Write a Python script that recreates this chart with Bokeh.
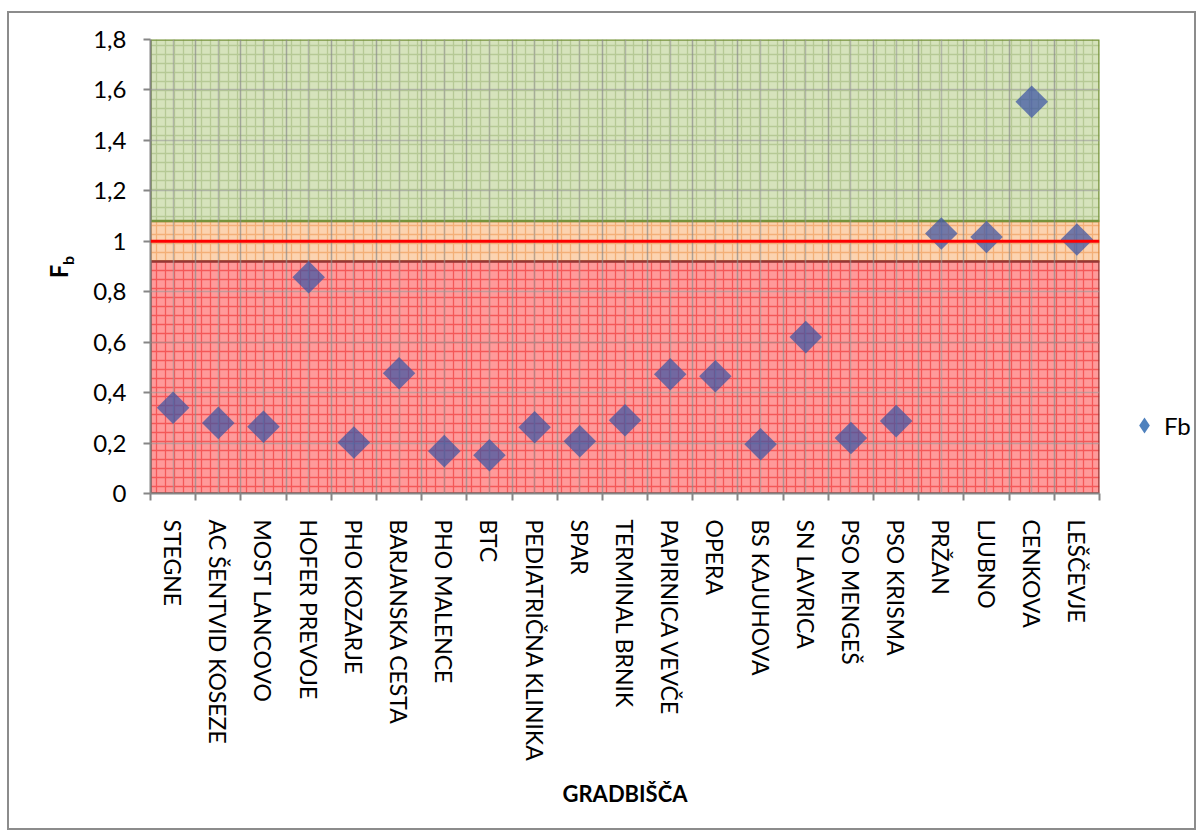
import math
from bokeh.plotting import figure
from bokeh.layouts import row
from bokeh.models import FixedTicker, Span, Label, Legend, LegendItem, Range1d, ColumnDataSource
from bokeh.embed import file_html
from bokeh.resources import INLINE

# ---- data ----
sites = ["STEGNE", "AC ŠENTVID KOSEZE", "MOST LANCOVO", "HOFER PREVOJE", "PHO KOZARJE",
         "BARJANSKA CESTA", "PHO MALENCE", "BTC", "PEDIATRIČNA KLINIKA", "SPAR",
         "TERMINAL BRNIK", "PAPIRNICA VEVČE", "OPERA", "BS KAJUHOVA", "SN LAVRICA",
         "PSO MENGEŠ", "PSO KRISMA", "PRŽAN", "LJUBNO", "CENKOVA", "LEŠČEVJE"]
fb = [0.34, 0.28, 0.265, 0.857, 0.202, 0.477, 0.168, 0.152, 0.263, 0.207,
      0.29, 0.473, 0.465, 0.195, 0.62, 0.22, 0.287, 1.031, 1.017, 1.553, 1.007]
y_ticks = [0, 0.2, 0.4, 0.6, 0.8, 1.0, 1.2, 1.4, 1.6, 1.8]
y_tick_labels = ["0", "0,2", "0,4", "0,6", "0,8", "1", "1,2", "1,4", "1,6", "1,8"]
# bands drawn in this order: orange, red, green
band_lower = [0.92, 0.0, 1.08]
band_upper = [1.08, 0.92, 1.8]
band_fill = ["#FCD3B0", "#FF9A9A", "#D6E3BC"]
band_hatch = ["#F0A060", "#F03C3C", "#A8BE84"]
band_line = ["#D9883F", "#953735", "#77933C"]
threshold = 1.0

FONT = "Lato"
n = len(sites)
xs = [i + 0.5 for i in range(n)]
H = 815

# ---- main chart ----
p = figure(width=1022, height=H, x_range=Range1d(0, n), y_range=Range1d(0, 1.8),
           output_backend="svg", toolbar_location=None, title=None,
           min_border_left=71, min_border_right=2, min_border_top=26, min_border_bottom=335)
p.outline_line_color = None
p.background_fill_color = "white"
p.border_fill_color = "white"

bands = ColumnDataSource(dict(left=[0] * 3, right=[n] * 3, bottom=band_lower, top=band_upper,
                              fill=band_fill, hatch=band_hatch, line=band_line))
p.quad(left="left", right="right", bottom="bottom", top="top", source=bands,
       fill_color="fill", line_color="line", line_width=2.5,
       hatch_pattern="+", hatch_color="hatch", hatch_scale=9, hatch_weight=1.3, hatch_alpha=0.7,
       level="underlay")

p.scatter(x=xs, y=fb, marker="square", angle=math.pi / 4, size=23,
          fill_color="#3B55A3", fill_alpha=0.72, line_color=None, level="guide")

p.add_layout(Span(location=threshold, dimension="width", line_color="#FF0000", line_width=3,
                  level="annotation"))

# x axis
xa = p.xaxis[0]
xa.ticker = FixedTicker(ticks=xs, minor_ticks=list(range(n + 1)))
xa.major_label_overrides = {x: s for x, s in zip(xs, sites)}
xa.major_label_orientation = -math.pi / 2
xa.major_label_text_font = FONT
xa.major_label_text_font_size = "23px"
xa.major_label_text_color = "black"
xa.major_label_standoff = 19
xa.major_tick_out = 0
xa.major_tick_in = 0
xa.minor_tick_out = 7
xa.minor_tick_in = 0
xa.minor_tick_line_color = "#868686"
xa.minor_tick_line_width = 2
xa.axis_line_color = "#868686"
xa.axis_line_width = 2
xa.axis_label = "GRADBIŠČA"
xa.axis_label_text_font = FONT
xa.axis_label_text_font_style = "bold"
xa.axis_label_text_font_size = "22px"
xa.axis_label_text_color = "black"
xa.axis_label_standoff = 15

# y axis
ya = p.yaxis[0]
ya.ticker = FixedTicker(ticks=y_ticks, minor_ticks=[])
ya.major_label_overrides = {t: s for t, s in zip(y_ticks, y_tick_labels)}
ya.major_label_text_font = FONT
ya.major_label_text_font_size = "24px"
ya.major_label_text_color = "black"
ya.major_label_standoff = 17
ya.major_tick_out = 7
ya.major_tick_in = 0
ya.major_tick_line_color = "#868686"
ya.major_tick_line_width = 2
ya.axis_line_color = "#868686"
ya.axis_line_width = 2

# grid
g = p.xgrid[0]
g.grid_line_color = "#9A9A9A"
g.grid_line_alpha = 0.6
g.grid_line_width = 1.5
g.minor_grid_line_color = "#8A8A8A"
g.minor_grid_line_alpha = 0.7
g.minor_grid_line_width = 1.5
g.level = "glyph"
p.ygrid[0].grid_line_color = "#9A9A9A"
p.ygrid[0].grid_line_alpha = 0.6
p.ygrid[0].grid_line_width = 1.5
p.ygrid[0].level = "glyph"

# ---- y-axis title panel (F with subscript b); frame is aligned with the main frame ----
p_lab = figure(width=70, height=H, x_range=Range1d(0, 1), y_range=Range1d(0, 1),
               output_backend="svg", toolbar_location=None, title=None,
               x_axis_location=None, y_axis_location=None,
               min_border_left=0, min_border_right=0, min_border_top=0, min_border_bottom=0)
p_lab.grid.visible = False
p_lab.outline_line_color = None
p_lab.add_layout(Label(x=49, y=222, x_units="screen", y_units="screen", text="F",
                       angle=math.pi / 2, text_font=FONT, text_font_style="bold",
                       text_font_size="24px", text_align="center", text_baseline="middle",
                       text_color="black"))
p_lab.add_layout(Label(x=58, y=233, x_units="screen", y_units="screen", text="b",
                       angle=math.pi / 2, text_font=FONT, text_font_style="bold",
                       text_font_size="16px", text_align="center", text_baseline="middle",
                       text_color="black"))

# ---- legend panel ----
p_leg = figure(width=93, height=H, x_range=Range1d(0, 1), y_range=Range1d(0, 1),
               output_backend="svg", toolbar_location=None, title=None,
               x_axis_location=None, y_axis_location=None,
               min_border_left=0, min_border_right=0, min_border_top=0, min_border_bottom=0)
p_leg.grid.visible = False
p_leg.outline_line_color = None
leg_r = p_leg.scatter(x=[0.5], y=[float("nan")], marker="diamond", size=16,
                      fill_color="#4F81BD", line_color=None)
legend = Legend(items=[LegendItem(label="Fb", renderers=[leg_r])], location=(23, 48),
                glyph_width=40, glyph_height=40, label_standoff=0, padding=0, margin=0,
                border_line_color=None, background_fill_alpha=0,
                label_text_font=FONT, label_text_font_size="24px", label_text_color="black")
p_leg.add_layout(legend, "center")

layout = row(p_lab, p, p_leg, spacing=0)
layout.styles = {"border": "2px solid #8C8C8C", "margin-left": "7px", "margin-top": "11px"}

open("out.html", "w").write(file_html(layout, INLINE))
